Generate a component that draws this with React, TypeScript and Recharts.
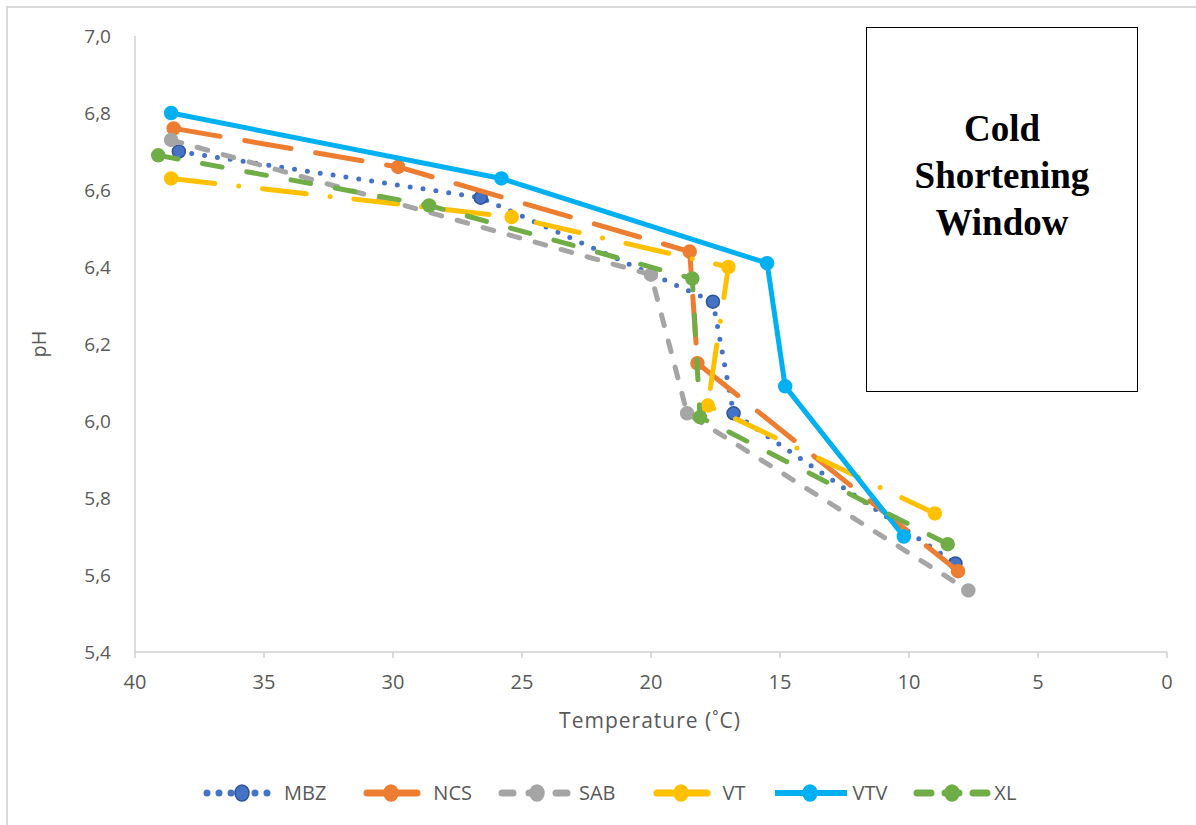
import { Scatter, ScatterChart, XAxis, YAxis } from 'recharts';

// temperature (°C) / pH readings per group, in the order the lines join them
const MBZ_T = [38.3, 26.6, 17.6, 16.8, 8.2];
const MBZ_PH = [6.70, 6.58, 6.31, 6.02, 5.63];
const NCS_T = [38.5, 29.8, 18.5, 18.2, 8.1];
const NCS_PH = [6.76, 6.66, 6.44, 6.15, 5.61];
const SAB_T = [38.6, 20.0, 18.6, 7.7];
const SAB_PH = [6.73, 6.38, 6.02, 5.56];
const VT_T = [38.6, 25.4, 17.0, 17.8, 9.0];
const VT_PH = [6.63, 6.53, 6.40, 6.04, 5.76];
const VTV_T = [38.6, 25.8, 15.5, 14.8, 10.2];
const VTV_PH = [6.80, 6.63, 6.41, 6.09, 5.70];
const XL_T = [39.1, 28.6, 18.4, 18.1, 8.5];
const XL_PH = [6.69, 6.56, 6.37, 6.01, 5.68];

const X_TICKS = [0, 5, 10, 15, 20, 25, 30, 35, 40];
const Y_TICKS = [5.4, 5.6, 5.8, 6.0, 6.2, 6.4, 6.6, 6.8, 7.0];

const TEXT_GRAY = '#595959';
const AXIS_GRAY = '#d0d0d0';
const SANS = "'Open Sans', 'Noto Sans', sans-serif";

interface SeriesDef {
  name: string;
  color: string;
  edge: string;
  dash: string;
  legendDash: string;
  temps: number[];
  ph: number[];
}

const SERIES: SeriesDef[] = [
  { name: 'MBZ', color: '#4472C4', edge: '#2F5597', dash: '0 13', legendDash: '0 12', temps: MBZ_T, ph: MBZ_PH },
  { name: 'NCS', color: '#ED7D31', edge: '#ED7D31', dash: '47 25', legendDash: '', temps: NCS_T, ph: NCS_PH },
  { name: 'SAB', color: '#A5A5A5', edge: '#A5A5A5', dash: '11 16', legendDash: '11 16', temps: SAB_T, ph: SAB_PH },
  { name: 'VT', color: '#FFC000', edge: '#FFC000', dash: '44 24 0 24', legendDash: '', temps: VT_T, ph: VT_PH },
  { name: 'VTV', color: '#00B0F0', edge: '#00B0F0', dash: '', legendDash: '', temps: VTV_T, ph: VTV_PH },
  { name: 'XL', color: '#70AD47', edge: '#70AD47', dash: '20 25', legendDash: '14 14', temps: XL_T, ph: XL_PH },
];

const toPoints = (s: SeriesDef) => s.temps.map((t, i) => ({ x: t, y: s.ph[i] }));

interface DotProps {
  cx?: number;
  cy?: number;
}

const renderDot =
  (fill: string, edge: string) =>
  ({ cx, cy }: DotProps) => {
    if (cx === undefined || cy === undefined) return <g />;
    return <circle cx={cx} cy={cy} r={6.5} fill={fill} stroke={edge} strokeWidth={1.5} />;
  };

function LegendSwatch({ s }: { s: SeriesDef }) {
  const x1 = s.name === 'NCS' || s.name === 'VT' ? 16 : 5;
  const x2 = s.name === 'NCS' || s.name === 'VT' ? 66 : 77;
  return (
    <svg width={80} height={22} style={{ display: 'block' }}>
      <line
        x1={x1}
        y1={11}
        x2={x2}
        y2={11}
        stroke={s.color}
        strokeWidth={s.name === 'VTV' ? 6 : 7}
        strokeLinecap={s.name === 'VTV' ? 'butt' : 'round'}
        strokeDasharray={s.legendDash || undefined}
      />
      <ellipse cx={40} cy={11} rx={7} ry={8} fill={s.color} stroke={s.edge} strokeWidth={1.5} />
    </svg>
  );
}

export default function App() {
  return (
    <div
      style={{
        position: 'absolute',
        left: 0,
        top: 0,
        width: 1196,
        height: 825,
        overflow: 'hidden',
        background: '#fff',
      }}
    >
      <div
        style={{
          position: 'absolute',
          left: 6,
          top: 6,
          width: 1400,
          height: 1000,
          border: '2px solid #d9d9d9',
        }}
      />
      <ScatterChart
        width={1196}
        height={825}
        margin={{ top: 36, right: 29, left: 75, bottom: 143 }}
        style={{ position: 'absolute', left: 0, top: 0 }}
      >
        <XAxis
          type="number"
          dataKey="x"
          domain={[0, 40]}
          ticks={X_TICKS}
          reversed
          height={30}
          stroke={AXIS_GRAY}
          strokeWidth={1.5}
          tickSize={6}
          tickMargin={17}
          tick={{ fill: TEXT_GRAY, fontSize: 20, fontFamily: SANS }}
        />
        <YAxis
          type="number"
          dataKey="y"
          domain={[5.4, 7.0]}
          ticks={Y_TICKS}
          width={60}
          stroke={AXIS_GRAY}
          strokeWidth={1.5}
          tickLine={false}
          tickSize={0}
          tickMargin={24}
          tick={{ fill: TEXT_GRAY, fontSize: 19, fontFamily: SANS }}
          tickFormatter={(v: number) => v.toFixed(1).replace('.', ',')}
        />
        {SERIES.map((s) => (
          <Scatter
            key={s.name}
            name={s.name}
            data={toPoints(s)}
            fill={s.color}
            line={{
              stroke: s.color,
              strokeWidth: 5,
              strokeDasharray: s.dash || undefined,
              strokeLinecap: 'round',
              strokeLinejoin: 'round',
            }}
            lineType="joint"
            shape={renderDot(s.color, s.edge)}
            isAnimationActive={false}
          />
        ))}
      </ScatterChart>

      <div
        style={{
          position: 'absolute',
          left: 38,
          top: 344,
          transform: 'translate(-50%, -50%) rotate(-90deg)',
          color: TEXT_GRAY,
          fontFamily: SANS,
          fontSize: 20,
        }}
      >
        pH
      </div>
      <div
        style={{
          position: 'absolute',
          left: 650,
          top: 720,
          transform: 'translate(-50%, -50%)',
          color: TEXT_GRAY,
          fontFamily: SANS,
          fontSize: 21,
          letterSpacing: 1,
          whiteSpace: 'nowrap',
        }}
      >
        Temperature (˚C)
      </div>

      <div
        style={{
          position: 'absolute',
          left: 202,
          top: 779,
          display: 'flex',
          alignItems: 'center',
          gap: 25,
          color: TEXT_GRAY,
          fontFamily: SANS,
          fontSize: 20,
        }}
      >
        {SERIES.map((s) => (
          <div key={s.name} style={{ display: 'flex', alignItems: 'center', gap: 2 }}>
            <LegendSwatch s={s} />
            <span>{s.name}</span>
          </div>
        ))}
      </div>

      <div
        style={{
          position: 'absolute',
          left: 866,
          top: 27,
          width: 272,
          height: 365,
          boxSizing: 'border-box',
          border: '1.5px solid #000',
          paddingTop: 77,
          textAlign: 'center',
          fontFamily: "'Liberation Serif', 'Times New Roman', serif",
          fontWeight: 'bold',
          fontSize: 37,
          lineHeight: '47px',
          color: '#000',
        }}
      >
        Cold
        <br />
        Shortening
        <br />
        Window
      </div>
    </div>
  );
}
